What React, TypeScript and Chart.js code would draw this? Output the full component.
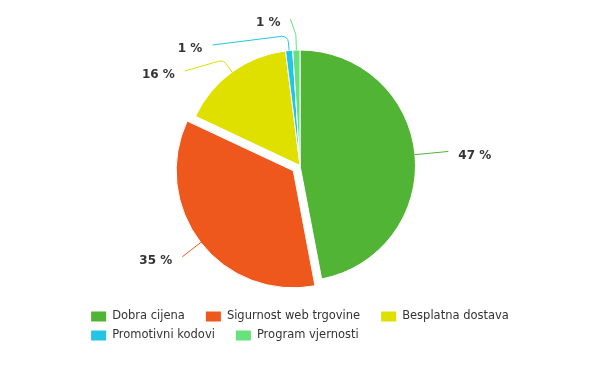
import React, { useEffect, useRef } from "react";
import { Chart, registerables } from "chart.js";

Chart.register(...registerables);

const categories = [
  "Dobra cijena",
  "Sigurnost web trgovine",
  "Besplatna dostava",
  "Promotivni kodovi",
  "Program vjernosti",
];
const shares = [47, 35, 16, 1, 1];
const sliceColors = ["#52b434", "#ee581d", "#dfdf00", "#22c6e4", "#66e17c"];
const pulledOut = [0, 34, 0, 0, 0];

const FONT = "'DejaVu Sans', Verdana, sans-serif";
const TICK = 15;
const LABEL_OUT = 33.5;
const LABEL_GAP = 26;

const pieLabels = {
  id: "pieLabels",
  afterDatasetsDraw(chart: any) {
    const meta = chart.getDatasetMeta(0);
    const ds = chart.data.datasets[0];
    const ctx = chart.ctx;
    const items = meta.data.map((arc: any, i: number) => {
      const p = arc.getProps(["x", "y", "startAngle", "endAngle", "outerRadius"], true);
      const mid = (p.startAngle + p.endAngle) / 2;
      const off = (arc.options.offset || 0) / 4;
      const ox = p.x + Math.cos(mid) * off;
      const oy = p.y + Math.sin(mid) * off;
      const r = p.outerRadius;
      const R = r + LABEL_OUT;
      const idealY = p.y + Math.sin(mid) * R;
      return {
        i,
        cx: p.x,
        cy: p.y,
        R,
        edge: { x: ox + Math.cos(mid) * r, y: oy + Math.sin(mid) * r },
        bend: { x: ox + Math.cos(mid) * (r + TICK), y: oy + Math.sin(mid) * (r + TICK) },
        idealX: p.x + Math.cos(mid) * R,
        idealY,
        y: idealY,
        left: Math.cos(mid) < 0,
      };
    });
    [true, false].forEach((side) => {
      const group = items.filter((it: any) => it.left === side).sort((a: any, b: any) => a.idealY - b.idealY);
      group.forEach((it: any, k: number) => {
        if (k === 0) it.y = Math.max(it.y, it.cy - it.R + 2.5);
        else it.y = Math.max(it.y, group[k - 1].y + LABEL_GAP);
      });
    });
    ctx.save();
    items.forEach((it: any) => {
      let x = it.idealX;
      const moved = it.y - it.idealY;
      if (Math.abs(moved) > 3) {
        const dy = it.y - it.cy;
        const dx = Math.sqrt(Math.max(it.R * it.R - dy * dy, 0));
        x = it.left ? it.cx - dx : it.cx + dx;
      } else if (Math.abs(moved) > 0.5) {
        x += (it.left ? -1 : 1) * moved * 2;
      }
      const color = ds.backgroundColor[it.i];
      ctx.strokeStyle = color;
      ctx.lineWidth = 1;
      ctx.beginPath();
      ctx.moveTo(it.edge.x, it.edge.y);
      ctx.arcTo(it.bend.x, it.bend.y, x, it.y, 6);
      ctx.lineTo(x, it.y);
      ctx.stroke();
      ctx.fillStyle = "#333333";
      ctx.font = `bold 12px ${FONT}`;
      ctx.textBaseline = "middle";
      ctx.textAlign = it.left ? "right" : "left";
      ctx.fillText(`${ds.data[it.i]} %`, it.left ? x - 10 : x + 10, it.y + 4);
    });
    ctx.restore();
  },
};

const flowLegend = {
  id: "flowLegend",
  afterDraw(chart: any) {
    const ctx = chart.ctx;
    const ds = chart.data.datasets[0];
    const labels: string[] = chart.data.labels;
    const boxW = 15;
    const boxH = 10;
    const textGap = 6;
    const itemGap = 21;
    const maxWidth = chart.width - 80;
    ctx.save();
    ctx.font = `11.5px ${FONT}`;
    const rows: { idx: number; w: number }[][] = [[]];
    const rowW: number[] = [0];
    labels.forEach((lab, i) => {
      const w = boxW + textGap + ctx.measureText(lab).width;
      const cur = rows.length - 1;
      const add = rows[cur].length ? itemGap + w : w;
      if (rows[cur].length && rowW[cur] + add > maxWidth) {
        rows.push([{ idx: i, w }]);
        rowW.push(w);
      } else {
        rows[cur].push({ idx: i, w });
        rowW[cur] += add;
      }
    });
    const blockW = Math.max(...rowW);
    const startX = (chart.width - blockW) / 2;
    const firstY = chart.height - 48.5;
    const rowStep = 19;
    rows.forEach((row, r) => {
      let x = startX;
      const y = firstY + r * rowStep;
      row.forEach((it) => {
        ctx.fillStyle = ds.backgroundColor[it.idx];
        ctx.fillRect(x, y - boxH / 2, boxW, boxH);
        ctx.fillStyle = "#333333";
        ctx.textAlign = "left";
        ctx.textBaseline = "middle";
        ctx.fillText(labels[it.idx], x + boxW + textGap, y);
        x += it.w + itemGap;
      });
    });
    ctx.restore();
  },
};

export default function App() {
  const ref = useRef<HTMLCanvasElement>(null);
  useEffect(() => {
    if (!ref.current) return;
    const chart = new Chart(ref.current, {
      type: "pie",
      data: {
        labels: categories,
        datasets: [
          {
            data: shares,
            backgroundColor: sliceColors,
            borderColor: "#ffffff",
            borderWidth: 1,
            offset: pulledOut,
            hoverOffset: 0,
          },
        ],
      },
      options: {
        responsive: false,
        animation: false,
        radius: 115.5,
        layout: { padding: { top: 0, bottom: 34, left: 0, right: 0 } },
        plugins: {
          legend: { display: false },
          tooltip: { enabled: false },
        },
        events: [],
      } as any,
      plugins: [pieLabels, flowLegend],
    });
    return () => chart.destroy();
  }, []);
  return (
    <div style={{ position: "absolute", left: 0, top: 0, width: 600, height: 365, background: "#fff" }}>
      <canvas ref={ref} width={600} height={365} style={{ display: "block" }} />
    </div>
  );
}
